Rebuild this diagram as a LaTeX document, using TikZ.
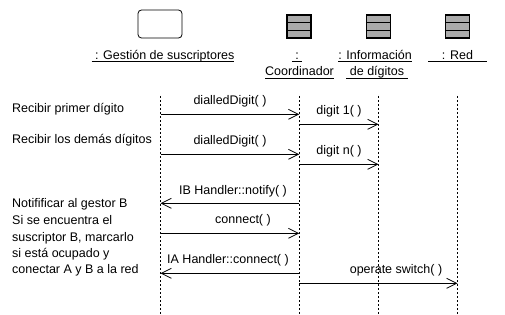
\documentclass[tikz,border=0pt]{standalone}
\usepackage{fontspec}
\setmainfont{Liberation Sans}
\usetikzlibrary{arrows.meta}

% underlined text with the rule a fixed distance under the baseline
\newcommand\ulbox[1]{\leavevmode\setbox0\hbox{#1}\rlap{\rule[-2.6pt]{\wd0}{0.8pt}}\box0}

\tikzset{
  every node/.style={inner sep=0pt, font=\fontsize{12.5}{15}\selectfont},
  lbl/.style={anchor=base},
  msglbl/.style={anchor=center},
  note/.style={anchor=mid west},
  lifeline/.style={line width=0.8pt, dash pattern=on 2pt off 2pt},
  msg/.style={line width=0.8pt, -{Straight Barb[length=10pt,width=10pt,line width=0.8pt]}},
  ctrlicon/.style={draw, line width=0.8pt, rounded corners=3.5pt, minimum width=44pt, minimum height=28pt},
  entityicon/.style={draw, line width=1.3pt, fill=black!33, minimum width=24pt, minimum height=23pt}
}

\begin{document}
\begin{tikzpicture}[x=1pt, y=-1pt]
\useasboundingbox (0,0) rectangle (505,315);

% object icons
\node[ctrlicon] (gsIcon) at (160,24) {};
\foreach \n/\x in {coIcon/299, idIcon/378.5, rdIcon/457.5}{
  \node[entityicon] (\n) at (\x,26.5) {};
  \draw[line width=1.1pt] ([yshift=-3.8pt]\n.west) -- ([yshift=-3.8pt]\n.east)
                         ([yshift=3.6pt]\n.west) -- ([yshift=3.6pt]\n.east);
}

% object names
\node[lbl] (gsName) at (163,59.2) {\ulbox{\ : Gestión de suscriptores}};
\node[lbl] (coNameA) at (297,59.2) {\ulbox{\ :\ }};
\node[lbl] (coNameB) at (299.5,75.8) {\ulbox{Coordinador}};
\node[lbl] (idNameA) at (375,59.2) {\ulbox{: Información}};
\node[lbl] (idNameB) at (377,75.8) {\ulbox{\ de dígitos\ }};
\node[lbl] (rdName) at (457.5,59.2) {\ulbox{\ \ \ \ : Red\ \ \ \ }};

% lifelines
\foreach \n/\x in {gs/160.5, co/299.3, id/378.5, rd/457.5}{
  \coordinate (\n Top) at (\x,96);
  \coordinate (\n Bot) at (\x,315);
  \draw[lifeline] (\n Top) -- (\n Bot);
}

% message heights
\coordinate (m1) at (0,114.3);
\coordinate (m2) at (0,124.3);
\coordinate (m3) at (0,154.3);
\coordinate (m4) at (0,164.3);
\coordinate (m5) at (0,203.3);
\coordinate (m6) at (0,233.3);
\coordinate (m7) at (0,273.3);
\coordinate (m8) at (0,283.3);

% messages
\draw[msg] (gsTop |- m1) -- (coTop |- m1);
\draw[msg] (coTop |- m2) -- (idTop |- m2);
\draw[msg] (gsTop |- m3) -- (coTop |- m3);
\draw[msg] (coTop |- m4) -- (idTop |- m4);
\draw[msg] (coTop |- m5) -- (gsTop |- m5);
\draw[msg] (gsTop |- m6) -- (coTop |- m6);
\draw[msg] (coTop |- m7) -- (gsTop |- m7);
\draw[msg] (coTop |- m8) -- (rdTop |- m8);

% message labels
\node[msglbl] (l1) at (230,101.5) {dialledDigit( )};
\node[msglbl] (l2) at (339,111.5) {digit 1( )};
\node[msglbl] (l3) at (230,141.5) {dialledDigit( )};
\node[msglbl] (l4) at (339,151.5) {digit n( )};
\node[msglbl] (l5) at (233,191) {IB Handler::notify( )};
\node[msglbl] (l6) at (243,220.5) {connect( )};
\node[msglbl] (l7) at (228,260) {IA Handler::connect( )};
\node[msglbl] (l8) at (396,270.5) {operate switch( )};

% step descriptions on the left
\node[note] (s1) at (12,110) {Recibir primer dígito};
\node[note] (s2) at (12,141) {Recibir los demás dígitos};
\node[note] (s3) at (12,204.5) {Notifificar al gestor B};
\node[note] (s4) at (12,221.5) {Si se encuentra el};
\node[note] (s5) at (12,238.5) {suscriptor B, marcarlo};
\node[note] (s6) at (12,255) {si está ocupado y};
\node[note] (s7) at (12,271) {conectar A y B a la red};
\end{tikzpicture}
\end{document}
